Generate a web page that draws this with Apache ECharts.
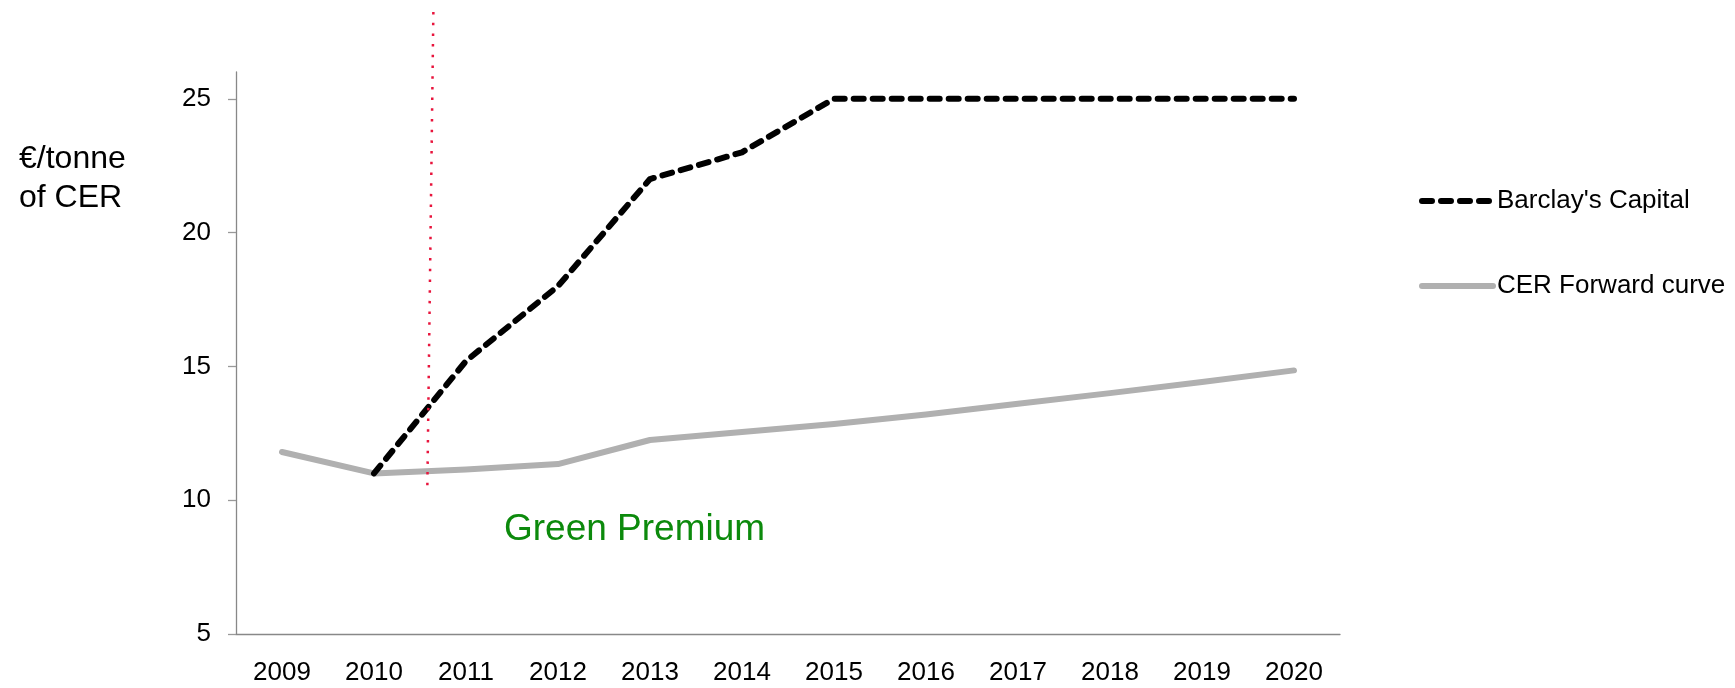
<!DOCTYPE html>
<html>
<head>
<meta charset="utf-8">
<title>CER price forecast</title>
<script src="https://cdn.jsdelivr.net/npm/echarts@6/dist/echarts.min.js"></script>
<style>
  html, body { margin: 0; padding: 0; background: #fff; }
  #main { width: 1735px; height: 688px; }
</style>
</head>
<body>
<div id="main"></div>
<script>
// chart data
const years = ["2009", "2010", "2011", "2012", "2013", "2014", "2015", "2016", "2017", "2018", "2019", "2020"];
const barclays = [null, 11, 15.2, 18, 22, 23, 25, 25, 25, 25, 25, 25];
const cerForward = [11.8, 11.0, 11.15, 11.35, 12.25, 12.55, 12.85, 13.2, 13.6, 14.0, 14.42, 14.85];
const yTicks = [5, 10, 15, 20, 25];

const FONT = "'Liberation Sans', Arial, sans-serif";
const myChart = echarts.init(document.getElementById("main"));

const blackLine = { color: "#000", width: 6, type: [10, 9], cap: "round", join: "round" };
const greyLine = { color: "#b0b0b0", width: 6, cap: "round", join: "round" };

const option = {
  animation: false,
  backgroundColor: "#fff",
  title: {
    text: "€/tonne\nof CER",
    left: 14,
    top: 135,
    textStyle: { fontFamily: FONT, fontSize: 32, lineHeight: 39, fontWeight: "normal", color: "#000" }
  },
  legend: {
    orient: "vertical",
    left: 1414,
    top: 183,
    itemWidth: 71,
    itemHeight: 10,
    itemGap: 59,
    itemStyle: { opacity: 0 },
    textStyle: { fontFamily: FONT, fontSize: 26, color: "#000", padding: [0, 0, 0, -1] },
    data: [
      { name: "Barclay's Capital", lineStyle: blackLine },
      { name: "CER Forward curve", lineStyle: greyLine }
    ]
  },
  grid: { left: 236, right: 395, top: 72, bottom: 54, outerBoundsMode: "none" },
  xAxis: {
    type: "category",
    data: years,
    boundaryGap: true,
    axisLine: { lineStyle: { color: "#888", width: 1.3 } },
    axisTick: { length: 8, lineStyle: { color: "#999", width: 1.3 } },
    axisLabel: { fontFamily: FONT, fontSize: 26, color: "#000", margin: 26 },
    splitLine: { show: false }
  },
  yAxis: {
    type: "value",
    min: 5,
    max: 26,
    interval: 5,
    axisLine: { show: true, lineStyle: { color: "#888", width: 1.3 } },
    axisTick: { show: true, length: 8, customValues: yTicks, lineStyle: { color: "#999", width: 1.3 } },
    axisLabel: { fontFamily: FONT, fontSize: 26, color: "#000", margin: 25, customValues: yTicks },
    splitLine: { show: false }
  },
  series: [
    {
      name: "Barclay's Capital",
      type: "line",
      data: barclays,
      symbol: "none",
      z: 3,
      lineStyle: blackLine,
      itemStyle: { color: "#000" }
    },
    {
      name: "CER Forward curve",
      type: "line",
      data: cerForward,
      symbol: "none",
      z: 2,
      lineStyle: greyLine,
      itemStyle: { color: "#b0b0b0" }
    }
  ]
};
myChart.setOption(option);

// annotations: red dotted marker and "Green Premium" label
function drawAnnotations() {
  const xa = myChart.convertToPixel({ xAxisIndex: 0 }, 1);
  const xb = myChart.convertToPixel({ xAxisIndex: 0 }, 2);
  const xBottom = xa + 0.58 * (xb - xa);
  const yBottom = myChart.convertToPixel({ yAxisIndex: 0 }, 10.55);
  myChart.setOption({
    graphic: [
      {
        type: "line",
        shape: { x1: xBottom + 6, y1: 12, x2: xBottom, y2: yBottom },
        style: { stroke: "#e8143c", lineWidth: 2.5, lineDash: [2.5, 8.2] },
        z: 10
      },
      {
        type: "text",
        x: 504,
        y: 530,
        style: {
          text: "Green Premium",
          font: "37px " + FONT,
          fill: "#0c8a0c",
          verticalAlign: "middle"
        },
        z: 10
      }
    ]
  });
}
drawAnnotations();

window.addEventListener("resize", () => {
  myChart.resize();
  drawAnnotations();
});
</script>
</body>
</html>
